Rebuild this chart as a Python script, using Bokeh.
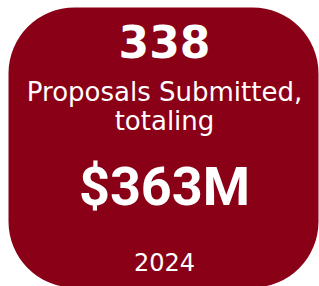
from bokeh.plotting import figure
from bokeh.models import Range1d
from bokeh.core.properties import value
from bokeh.embed import file_html
from bokeh.resources import INLINE

# KPI values
proposal_count = ["338"]
subtitle_lines = ["Proposals Submitted,", "totaling"]
total_amount = ["$363M"]
year_label = ["2024"]

W, H = 319, 286
p = figure(width=W, height=H, output_backend="svg", toolbar_location=None,
           x_range=Range1d(0, W), y_range=Range1d(H, 0), min_border=0)
p.axis.visible = False
p.grid.visible = False
p.outline_line_color = None
p.background_fill_color = "white"
p.border_fill_color = "white"

p.quad(left=[8], right=[318], top=[7], bottom=[287], fill_color="#8A0016",
       line_color=None, border_radius=66)

cx = 164
p.text(x=[cx], y=[40.5], text=proposal_count, text_font=value("DejaVu Sans"), text_font_size="44px",
       text_font_style="bold", text_color="white", text_align="center", text_baseline="alphabetic")
p.text(x=[cx, cx], y=[91, 120], text=subtitle_lines, text_font=value("DejaVu Sans"), text_font_size="26px",
       text_color="white", text_align="center", text_baseline="alphabetic")
p.text(x=[cx], y=[186], text=total_amount, text_font=value("Roboto"), text_font_size="54px",
       text_font_style="bold", text_color="white", text_align="center", text_baseline="alphabetic")
p.text(x=[cx], y=[261], text=year_label, text_font=value("DejaVu Sans"), text_font_size="24px",
       text_color="white", text_align="center", text_baseline="alphabetic")

open("out.html", "w").write(file_html(p, INLINE))
